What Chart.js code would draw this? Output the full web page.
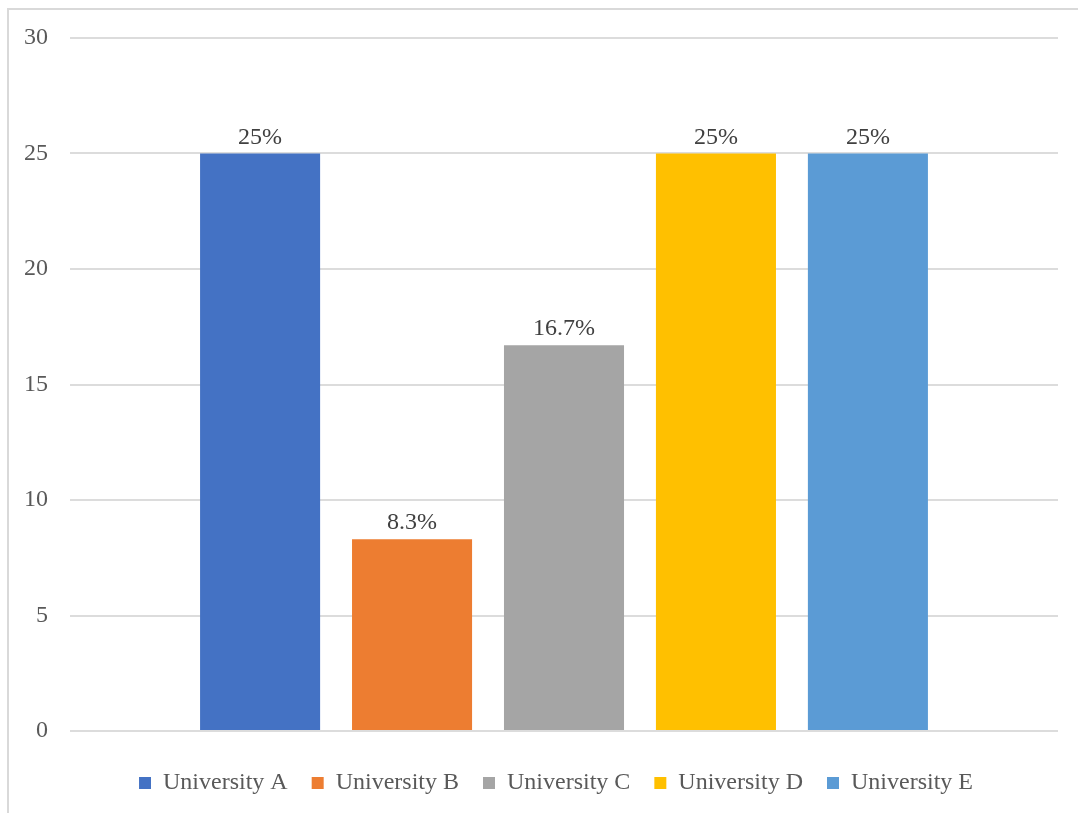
<!DOCTYPE html>
<html>
<head>
<meta charset="utf-8">
<title>University chart</title>
<script src="https://cdn.jsdelivr.net/npm/chart.js@4.4.1/dist/chart.umd.min.js"></script>
<style>
  html, body { margin: 0; padding: 0; background: #fff; overflow: hidden; }
  #frame {
    position: absolute; left: 7px; top: 8px;
    width: 1100px; height: 900px;
    border: 2px solid #d9d9d9;
  }
  #chart { position: absolute; left: 0; top: 0; }
</style>
</head>
<body>
<div id="frame"></div>
<canvas id="chart" width="1078" height="813"></canvas>
<script>
// values
const universities = ["University A", "University B", "University C", "University D", "University E"];
const shares = [25, 8.3, 16.7, 25, 25];
const shareLabels = ["25%", "8.3%", "16.7%", "25%", "25%"];
const barColors = ["#4472C4", "#ED7D31", "#A5A5A5", "#FFC000", "#5B9BD5"];
const yTicks = [0, 5, 10, 15, 20, 25, 30];

const FONT = "'Liberation Serif', 'Times New Roman', serif";

// draws the percentage above each bar
const valueLabels = {
  id: "valueLabels",
  afterDatasetsDraw(chart) {
    const ctx = chart.ctx;
    ctx.save();
    ctx.font = "24px " + FONT;
    ctx.fillStyle = "#404040";
    ctx.textAlign = "center";
    ctx.textBaseline = "alphabetic";
    chart.data.datasets.forEach((ds, i) => {
      const bar = chart.getDatasetMeta(i).data[0];
      if (!bar) return;
      ctx.fillText(shareLabels[i], bar.x, bar.y - 10);
    });
    ctx.restore();
  },
};

// legend in the reference sits a bit right of the canvas center
const legendShift = {
  id: "legendShift",
  afterLayout(chart) {
    chart.legend.left += 26;
    chart.legend.right += 26;
  },
};

const datasets = universities.map((name, i) => ({
  label: name,
  data: [shares[i]],
  backgroundColor: barColors[i],
  borderWidth: 0,
  categoryPercentage: 0.769,
  barPercentage: 0.79,
}));

new Chart(document.getElementById("chart").getContext("2d"), {
  type: "bar",
  data: { labels: [""], datasets: datasets },
  options: {
    responsive: false,
    animation: false,
    layout: { padding: { top: 38, left: 2, right: 20, bottom: 8 } },
    scales: {
      x: {
        grid: { display: false },
        border: { display: false },
        ticks: { display: false },
        afterFit: (axis) => { axis.height = 16; },
      },
      y: {
        min: 0,
        max: 30,
        afterBuildTicks: (axis) => { axis.ticks = yTicks.map((v) => ({ value: v })); },
        grid: { color: "#dcdcdc", lineWidth: 2, drawTicks: false },
        border: { display: false },
        ticks: {
          padding: 22,
          color: "#595959",
          font: { family: FONT, size: 24 },
        },
      },
    },
    plugins: {
      tooltip: { enabled: false },
      legend: {
        position: "bottom",
        labels: {
          boxWidth: 12,
          boxHeight: 12,
          padding: 24,
          color: "#595959",
          font: { family: FONT, size: 24 },
        },
      },
    },
  },
  plugins: [valueLabels, legendShift],
});
</script>
</body>
</html>
